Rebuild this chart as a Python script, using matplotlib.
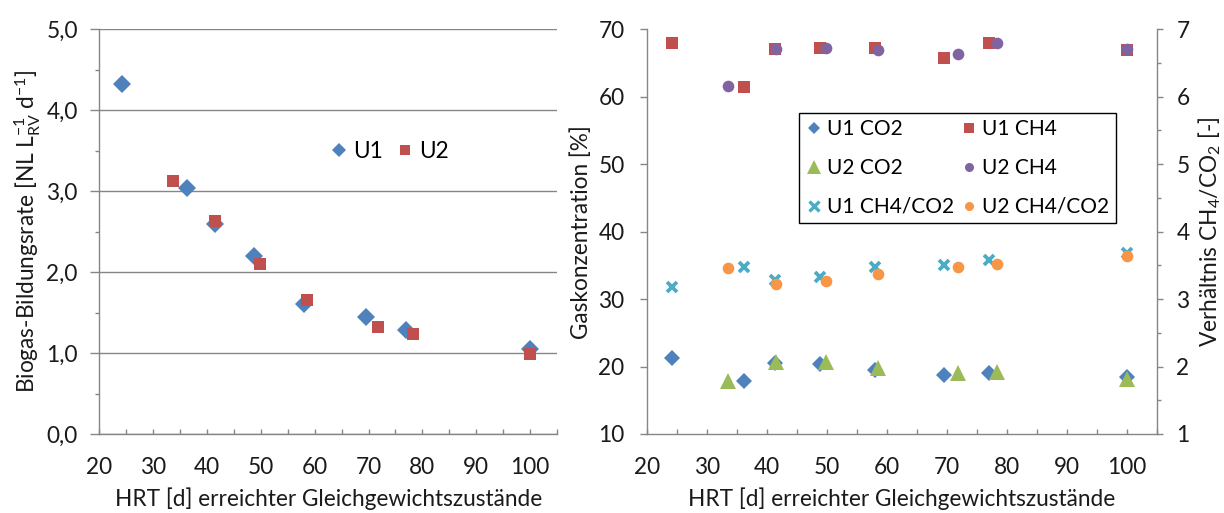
import matplotlib
matplotlib.use("Agg")
import matplotlib.pyplot as plt
from matplotlib.lines import Line2D
from matplotlib.ticker import MultipleLocator, FuncFormatter

plt.rcParams['font.family'] = ['Lato', 'DejaVu Sans']
plt.rcParams['mathtext.fontset'] = 'custom'
plt.rcParams['mathtext.rm'] = 'Lato'
plt.rcParams['mathtext.it'] = 'Lato:italic'
plt.rcParams['mathtext.bf'] = 'Lato:bold'

# ---------------- data ----------------
# Left panel: biogas formation rate
u1_hrt = [24.2, 36.2, 41.4, 48.8, 58.0, 69.6, 77.0, 100.0]
u1_rate = [4.33, 3.04, 2.60, 2.20, 1.61, 1.45, 1.29, 1.05]
u2_hrt = [33.6, 41.5, 49.9, 58.6, 71.8, 78.3, 100.0]
u2_rate = [3.12, 2.63, 2.10, 1.65, 1.32, 1.23, 0.99]

# Right panel: gas concentrations (%) and CH4/CO2 ratio
u1_ch4 = [67.9, 61.4, 67.1, 67.3, 67.3, 65.8, 67.9, 67.0]
u2_ch4 = [61.6, 67.1, 67.2, 67.0, 66.3, 68.0, 67.1]
u1_co2 = [21.3, 17.8, 20.5, 20.4, 19.5, 18.8, 19.1, 18.4]
u2_co2 = [17.9, 20.7, 20.7, 19.8, 19.1, 19.2, 18.1]
u1_ratio = [3.18, 3.47, 3.29, 3.33, 3.48, 3.51, 3.58, 3.69]
u2_ratio = [3.46, 3.23, 3.27, 3.37, 3.47, 3.52, 3.64]

x_ticks = [20, 30, 40, 50, 60, 70, 80, 90, 100]

C_BLUE = '#4F81BD'
C_RED = '#C0504D'
C_GREEN = '#9BBB59'
C_PURPLE = '#8064A2'
C_AQUA = '#4BACC6'
C_ORANGE = '#F79646'
C_AXIS = '#868686'
C_TEXT = '#1a1a1a'

FS = 16.3
FS_LEG = 15
W, H = 1224, 513
fig = plt.figure(figsize=(W / 100, H / 100), dpi=100)

def px_axes(x0, y0, x1, y1):
    return fig.add_axes([x0 / W, 1 - y1 / H, (x1 - x0) / W, (y1 - y0) / H])

# ---------------- left panel ----------------
axL = px_axes(99.3, 29.3, 557, 434)
axL.set_xlim(20, 105)
axL.set_ylim(0, 5)
axL.plot(u1_hrt, u1_rate, linestyle='none', marker='D', ms=9.4, color=C_BLUE,
         mew=0, label='U1', zorder=3)
axL.plot(u2_hrt, u2_rate, linestyle='none', marker='s', ms=8.4, color=C_RED,
         mew=0, label='U2', zorder=3)
axL.yaxis.set_major_locator(MultipleLocator(1))
axL.yaxis.set_minor_locator(MultipleLocator(0.5))
axL.xaxis.set_minor_locator(MultipleLocator(5))
axL.set_xticks(x_ticks)
axL.yaxis.set_major_formatter(FuncFormatter(lambda v, p: f'{v:.1f}'.replace('.', ',')))
axL.grid(axis='y', color=C_AXIS, lw=1.0)
axL.set_axisbelow(True)
for s in ['top', 'right']:
    axL.spines[s].set_visible(False)
for s in ['left', 'bottom']:
    axL.spines[s].set_color(C_AXIS)
    axL.spines[s].set_linewidth(1.0)
axL.tick_params(axis='y', which='major', direction='out', length=6.5, width=1,
                color=C_AXIS, pad=9, labelsize=FS, labelcolor=C_TEXT)
axL.tick_params(axis='y', which='minor', direction='out', length=3, width=1,
                color=C_AXIS)
axL.tick_params(axis='x', which='both', direction='in', length=3.6, width=1,
                color=C_AXIS, pad=16.5, labelsize=FS, labelcolor=C_TEXT)
axL.set_xlabel('HRT [d] erreichter Gleichgewichtszustände', fontsize=FS,
               color=C_TEXT)
axL.xaxis.set_label_coords(0.5, -0.131)
axL.set_ylabel(r'Biogas-Bildungsrate [NL L$_{\mathrm{RV}}^{\mathrm{-1}}$ d$^{\mathrm{-1}}$]',
               fontsize=FS, color=C_TEXT)
axL.yaxis.set_label_coords(-0.124, 0.5)
axL.legend(loc='center left', bbox_to_anchor=(0.505, 0.699), ncol=2,
           frameon=False, fontsize=FS, handlelength=0.75, handletextpad=0.25,
           columnspacing=0.6, borderpad=0, borderaxespad=0, markerscale=0.8)

# ---------------- right panel ----------------
axR = px_axes(646.7, 29.3, 1157, 434)
axR.set_xlim(20, 105)
axR.set_ylim(10, 70)
axR.plot(u1_hrt, u1_co2, linestyle='none', marker='D', ms=8.2, color=C_BLUE,
         mew=0, label='U1 CO2', zorder=3)
axR.plot(u1_hrt, u1_ch4, linestyle='none', marker='s', ms=8.0, color=C_RED,
         mew=0, label='U1 CH4', zorder=3)
axR.plot(u2_hrt, u2_co2, linestyle='none', marker='^', ms=11.5, color=C_GREEN,
         mew=0, label='U2 CO2', zorder=3)
axR.plot(u2_hrt, u2_ch4, linestyle='none', marker='o', ms=8.4, color=C_PURPLE,
         mew=0, label='U2 CH4', zorder=3)
axR.set_xticks(x_ticks)
axR.xaxis.set_minor_locator(MultipleLocator(5))
axR.yaxis.set_major_locator(MultipleLocator(10))
axR.spines['top'].set_visible(False)
axR.spines['right'].set_visible(False)
for s in ['left', 'bottom']:
    axR.spines[s].set_color(C_AXIS)
    axR.spines[s].set_linewidth(1.0)
axR.tick_params(axis='y', which='major', direction='out', length=5, width=1,
                color=C_AXIS, pad=11, labelsize=FS, labelcolor=C_TEXT)
axR.tick_params(axis='x', which='both', direction='in', length=3.6, width=1,
                color=C_AXIS, pad=16.5, labelsize=FS, labelcolor=C_TEXT)
axR.set_xlabel('HRT [d] erreichter Gleichgewichtszustände', fontsize=FS,
               color=C_TEXT)
axR.xaxis.set_label_coords(0.5, -0.131)
axR.set_ylabel('Gaskonzentration [%]', fontsize=FS, color=C_TEXT)
axR.yaxis.set_label_coords(-0.107, 0.5)

axT = axR.twinx()
axT.set_ylim(1, 7)
axT.plot(u1_hrt, u1_ratio, linestyle='none', marker='x', ms=7.8, mew=2.7,
         color=C_AQUA, label='U1 CH4/CO2', zorder=3)
axT.plot(u2_hrt, u2_ratio, linestyle='none', marker='o', ms=8.4, mew=0,
         color=C_ORANGE, label='U2 CH4/CO2', zorder=3)
axT.yaxis.set_major_locator(MultipleLocator(1))
axT.yaxis.set_minor_locator(MultipleLocator(0.5))
axT.spines['top'].set_visible(False)
axT.spines['left'].set_visible(False)
axT.spines['bottom'].set_visible(False)
axT.spines['right'].set_color(C_AXIS)
axT.spines['right'].set_linewidth(1.0)
axT.tick_params(axis='y', which='major', direction='out', length=4, width=1,
                color=C_AXIS, pad=10, labelsize=FS, labelcolor=C_TEXT)
axT.tick_params(axis='y', which='minor', direction='out', length=3, width=1,
                color=C_AXIS)
axT.set_ylabel(r'Verhältnis CH$_{4}$/CO$_{2}$ [-]', fontsize=FS, color=C_TEXT)
axT.yaxis.set_label_coords(1.078, 0.5)

leg_handles = [
    Line2D([], [], linestyle='none', marker='D', ms=6.5, color=C_BLUE, mew=0),
    Line2D([], [], linestyle='none', marker='^', ms=9.5, color=C_GREEN, mew=0),
    Line2D([], [], linestyle='none', marker='x', ms=6.5, mew=2.4, color=C_AQUA),
    Line2D([], [], linestyle='none', marker='s', ms=6.5, color=C_RED, mew=0),
    Line2D([], [], linestyle='none', marker='o', ms=6.5, color=C_PURPLE, mew=0),
    Line2D([], [], linestyle='none', marker='o', ms=6.5, color=C_ORANGE, mew=0),
]
leg_labels = ['U1 CO2', 'U2 CO2', 'U1 CH4/CO2', 'U1 CH4', 'U2 CH4', 'U2 CH4/CO2']
leg = axT.legend(leg_handles, leg_labels, ncol=2, loc='upper left',
                 bbox_to_anchor=(0.2985, 0.793), fontsize=FS_LEG, frameon=True,
                 fancybox=False, edgecolor='#000000', framealpha=1,
                 handlelength=0.8, handletextpad=0.22, columnspacing=0.35,
                 labelspacing=0.9, borderpad=0.3, borderaxespad=0)
leg.get_frame().set_linewidth(1.0)

fig.savefig('out.png', dpi=100)
